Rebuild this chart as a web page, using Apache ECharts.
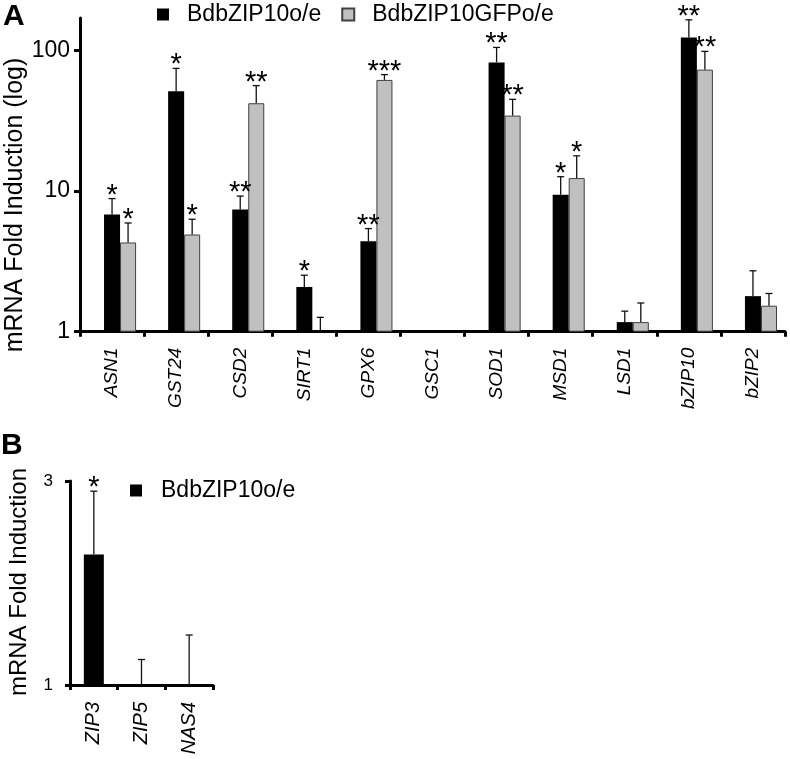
<!DOCTYPE html>
<html><head><meta charset="utf-8">
<script src="https://cdn.jsdelivr.net/npm/echarts@6/dist/echarts.min.js"></script>
<style>html,body{margin:0;padding:0;background:#fff}#c{width:790px;height:759px}</style>
</head><body><div id="c"></div>
<script>
// ---------- Panel A data ----------
const genesA = ['ASN1','GST24','CSD2','SIRT1','GPX6','GSC1','SOD1','MSD1','LSD1','bZIP10','bZIP2'];
const oeValues  = [6.8, 51.2, 7.38, 2.08, 4.40, 1, 82.2, 9.43, 1.17, 123.7, 1.79];
const oeErrTop  = [8.84, 74.5, 9.21, 2.52, 5.41, null, 105, 12.65, 1.40, 165, 2.71];
const oeStars   = ['*','*','**','*','**','','**','*','','**',''];
const gfpValues = [4.31, 4.91, 42.1, 1, 61.7, 1, 34.4, 12.37, 1.17, 73, 1.53];
const gfpErrTop = [5.93, 6.30, 56.2, 1.265, 67.3, null, 44.9, 17.8, 1.60, 98.4, 1.87];
const gfpStars  = ['*','*','**','','***','','**','*','','**',''];
// ---------- Panel B data ----------
const genesB    = ['ZIP3','ZIP5','NAS4'];
const oeValuesB = [2.28, 1, 1.01];
const oeErrTopB = [2.90, 1.25, 1.49];
const oeStarsB  = ['*','',''];

const FONT = 'Liberation Sans, Arial, sans-serif';

function errRender(slot, barFrac, stars) {
  return function (params, api) {
    const i = api.value(0), v = api.value(1), t = api.value(2);
    const band = api.size([1, 0], [0, 1])[0];
    const bw = band * barFrac;
    const base = api.coord([i, v]);
    const x = base[0] + slot * bw;
    const children = [];
    let topY = base[1];
    if (!isNaN(t) && t !== v) {
      topY = api.coord([i, t])[1];
      children.push({type:'line', shape:{x1:x, y1:base[1], x2:x, y2:topY}, style:{stroke:'#111', lineWidth:1.3}});
      children.push({type:'line', shape:{x1:x-3.5, y1:topY, x2:x+3.5, y2:topY}, style:{stroke:'#111', lineWidth:1.3}});
    }
    const s = stars[params.dataIndex];
    if (s) {
      children.push({type:'text', style:{text:s, x:x, y:topY-3, textAlign:'center', textVerticalAlign:'middle',
        fontSize:29, fontFamily:FONT, fill:'#000'}});
    }
    return {type:'group', children};
  };
}
function grayItems(vals) {
  return vals.map(v => v <= 1 ? {value:v, itemStyle:{borderWidth:0}} : v);
}

const axisLine = {show:true, lineStyle:{color:'#000', width:3}};
const chart = echarts.init(document.getElementById('c'));
chart.setOption({
  animation:false,
  backgroundColor:'#fff',
  textStyle:{fontFamily:FONT},
  legend:[
    {data:['BdbZIP10o/e','BdbZIP10GFPo/e'], left:152, top:-2, itemWidth:12, itemHeight:12, itemGap:20,
     icon:'rect', textStyle:{fontSize:23, color:'#000', fontFamily:FONT, padding:[0,0,0,13]}, selectedMode:false},
    {data:['BdbZIP10o/e'], left:125, top:474, itemWidth:12, itemHeight:12,
     icon:'rect', textStyle:{fontSize:23, color:'#000', fontFamily:FONT, padding:[0,0,0,14]}, selectedMode:false}
  ],
  grid:[
    {left:80, right:5, top:18, bottom:427.3, containLabel:false},
    {left:70, width:143, top:481, bottom:74, containLabel:false}
  ],
  xAxis:[
    {type:'category', gridIndex:0, data:genesA, axisLine, axisTick:{show:true, length:5, lineStyle:{width:3, color:'#000'}},
     axisLabel:{rotate:90, fontSize:19, fontStyle:'italic', color:'#000', margin:16, fontFamily:FONT}},
    {type:'category', gridIndex:1, data:genesB, axisLine, axisTick:{show:true, length:5, lineStyle:{width:3, color:'#000'}},
     axisLabel:{rotate:90, fontSize:20, fontStyle:'italic', color:'#000', margin:17, fontFamily:FONT}}
  ],
  yAxis:[
    {type:'log', gridIndex:0, logBase:10, min:1, max:170, axisLine, splitLine:{show:false},
     axisTick:{show:true, length:6, lineStyle:{width:3, color:'#000'}},
     axisLabel:{fontSize:23, color:'#000', margin:10, fontFamily:FONT, showMaxLabel:false}},
    {type:'value', gridIndex:1, min:1, max:3, interval:2, axisLine, splitLine:{show:false},
     axisTick:{show:true, length:5, lineStyle:{width:3, color:'#000'}},
     axisLabel:{fontSize:17, color:'#000', margin:17, fontFamily:FONT}}
  ],
  graphic:[
    {type:'text', left:3, top:2, style:{text:'A', font:'bold 30px '+FONT, fill:'#000'}},
    {type:'text', left:1, top:431, style:{text:'B', font:'bold 30px '+FONT, fill:'#000'}},
    {type:'text', x:15, y:205, rotation:Math.PI/2, style:{text:'mRNA Fold Induction (log)', fontSize:25, fontFamily:FONT, fill:'#000', textAlign:'center', textVerticalAlign:'middle'}},
    {type:'text', x:19, y:582, rotation:Math.PI/2, style:{text:'mRNA Fold Induction', fontSize:24, fontFamily:FONT, fill:'#000', textAlign:'center', textVerticalAlign:'middle'}}
  ],
  series:[
    {type:'bar', name:'', xAxisIndex:0, yAxisIndex:0, data:genesA.map(()=>null), barGap:'0%', barCategoryGap:'25%'},
    {type:'bar', name:'BdbZIP10o/e', xAxisIndex:0, yAxisIndex:0, data:oeValues, barGap:'0%', barCategoryGap:'25%',
     itemStyle:{color:'#000'}},
    {type:'bar', name:'BdbZIP10GFPo/e', xAxisIndex:0, yAxisIndex:0, data:grayItems(gfpValues), barGap:'0%', barCategoryGap:'25%',
     itemStyle:{color:'#c0c0c0', borderColor:'#404040', borderWidth:1}},
    {type:'custom', xAxisIndex:0, yAxisIndex:0, renderItem:errRender(0, 0.25, oeStars), clip:false, z:5,
     data:genesA.map((g,i)=>[i, oeValues[i], oeErrTop[i]==null ? oeValues[i] : oeErrTop[i]])},
    {type:'custom', xAxisIndex:0, yAxisIndex:0, renderItem:errRender(1, 0.25, gfpStars), clip:false, z:5,
     data:genesA.map((g,i)=>[i, gfpValues[i], gfpErrTop[i]==null ? gfpValues[i] : gfpErrTop[i]])},
    {type:'bar', name:'BdbZIP10o/e', xAxisIndex:1, yAxisIndex:1, data:oeValuesB, barWidth:20, clip:true,
     itemStyle:{color:'#000'}},
    {type:'custom', xAxisIndex:1, yAxisIndex:1, renderItem:errRender(0, 0, oeStarsB), clip:false, z:5,
     data:genesB.map((g,i)=>[i, oeValuesB[i], oeErrTopB[i]])}
  ]
});
</script></body></html>
